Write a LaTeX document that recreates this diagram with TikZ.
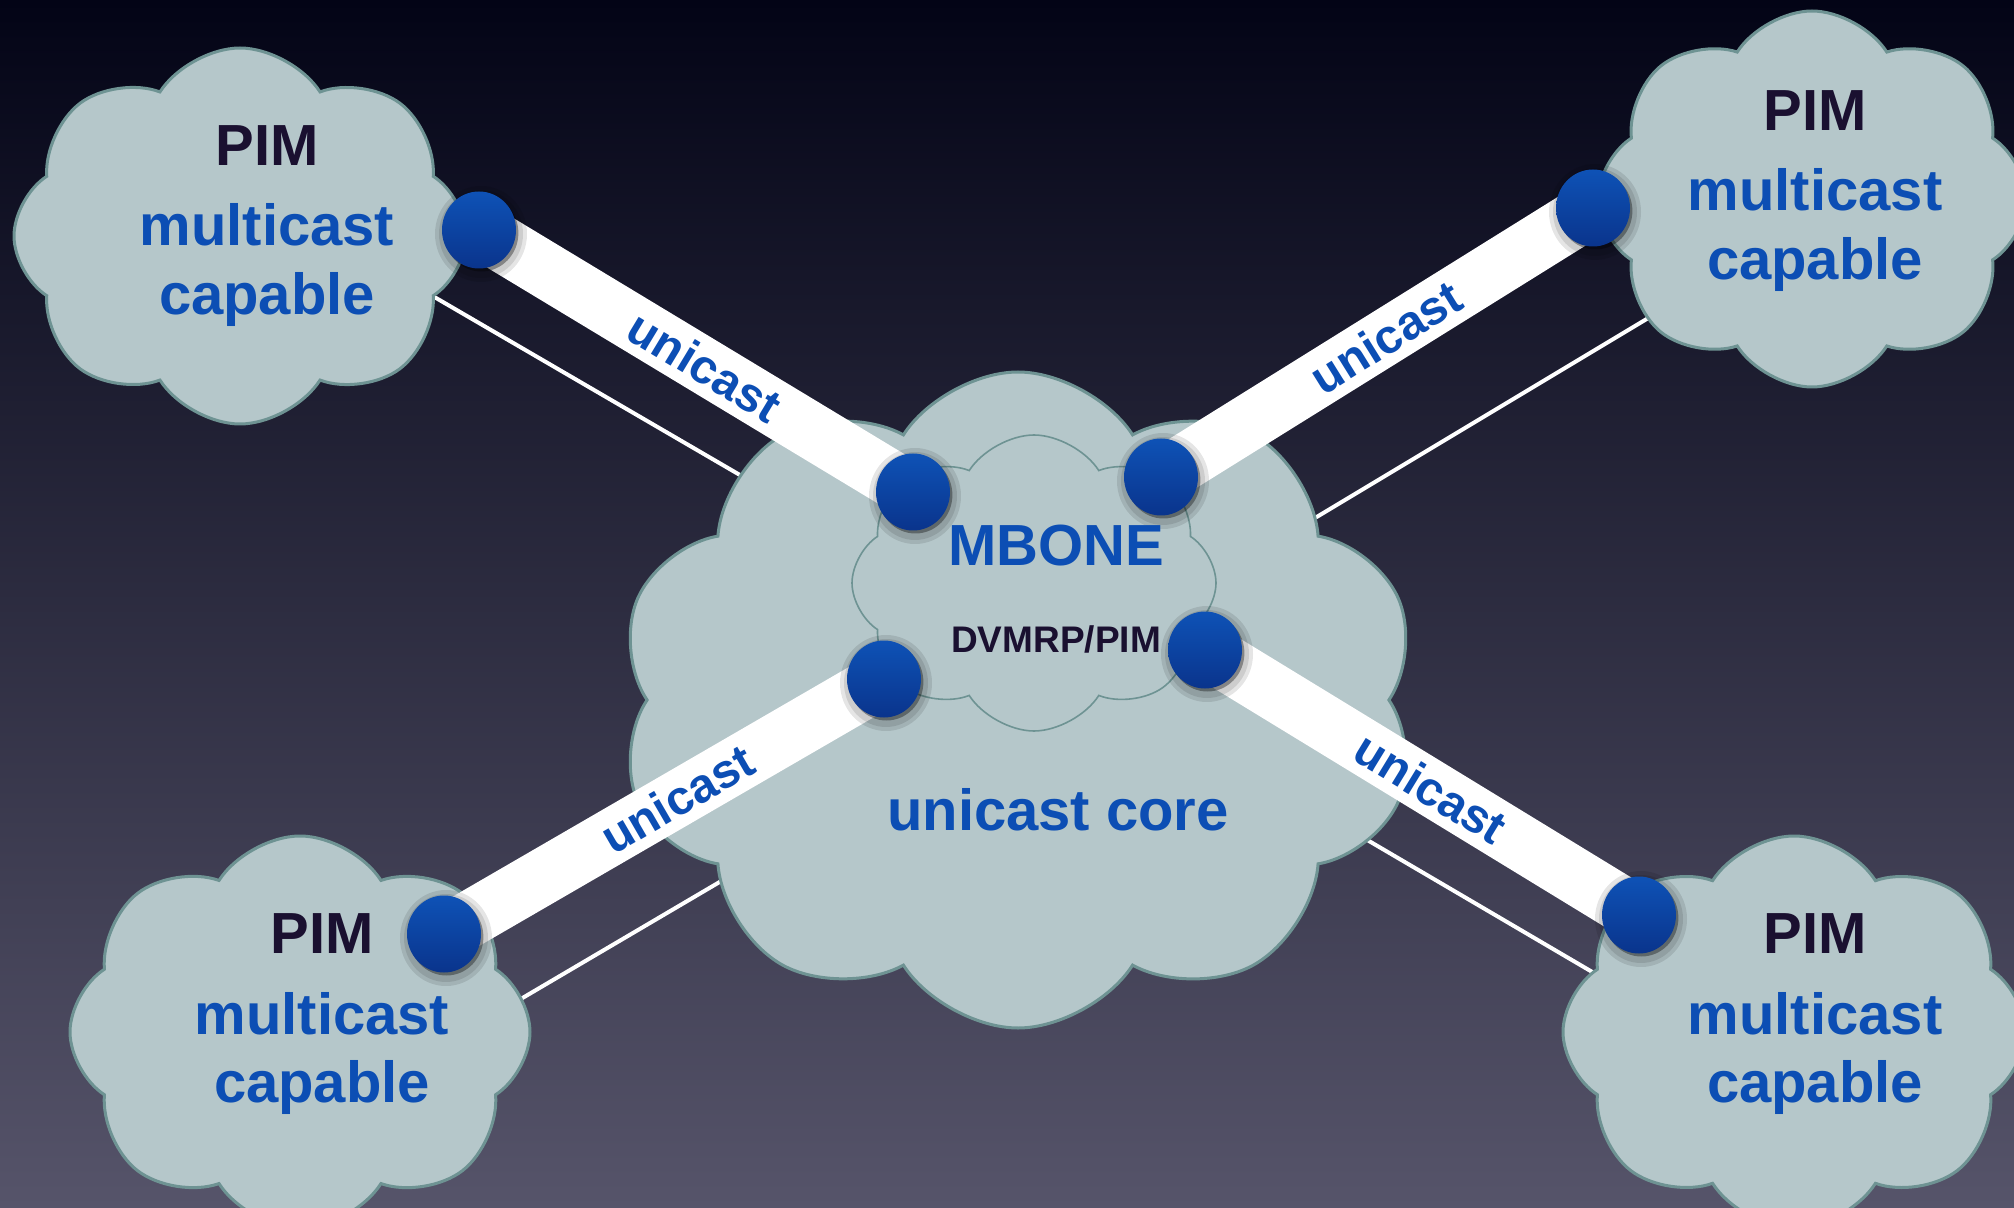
\documentclass[tikz,border=0pt]{standalone}
\usepackage{fontspec}
\setmainfont{Liberation Sans}
\usetikzlibrary{shapes.symbols,shapes.geometric,shadows}
\definecolor{cloudfill}{RGB}{181,199,202}
\definecolor{cloudline}{RGB}{110,147,147}
\definecolor{txtblue}{RGB}{12,78,180}
\definecolor{txtdark}{RGB}{26,16,48}
\definecolor{bgtop}{RGB}{3,4,22}
\definecolor{bgmid}{RGB}{36,34,60}
\definecolor{bgbot}{RGB}{86,84,106}
\definecolor{balltop}{RGB}{14,82,182}
\definecolor{ballbot}{RGB}{10,52,140}
\begin{document}
\begin{tikzpicture}[x=0.5pt,y=-0.5pt,
  cloudbox/.style={cloud, cloud puffs=#1, cloud puff arc=115, cloud ignores aspect,
    draw=cloudline, line width=1.5pt, fill=cloudfill, inner sep=0pt},
  innercloud/.style={cloud, cloud puffs=8, cloud puff arc=115, cloud ignores aspect,
    draw=cloudline, line width=0.8pt, inner sep=0pt},
  ballnode/.style={ellipse, minimum width=37pt, minimum height=38.5pt, inner sep=0pt,
    top color=balltop, bottom color=ballbot,
    drop shadow={shadow xshift=1.2pt, shadow yshift=-1.5pt, opacity=0.35, fill=black}},
  glow/.style={fill=black, opacity=0.10},
  band/.style={line width=28pt, white},
  thinline/.style={line width=2pt, white},
  bandlbl/.style={sloped, text=txtblue, font=\fontsize{24}{24}\selectfont\bfseries, inner sep=0pt},
  bigdark/.style={anchor=base, text=txtdark, font=\fontsize{29}{29}\selectfont\bfseries, inner sep=0pt},
  bigblue/.style={anchor=base, text=txtblue, font=\fontsize{29}{29}\selectfont\bfseries, inner sep=0pt},
  smalldark/.style={anchor=base, text=txtdark, font=\fontsize{18.5}{18.5}\selectfont\bfseries, inner sep=0pt}
]
\useasboundingbox (0,0) rectangle (2014,1208);
\clip (0,0) rectangle (2014,1208);
\shade[top color=bgtop, middle color=bgmid, bottom color=bgbot] (0,0) rectangle (2014,1208);

% thin lines (behind clouds)
\coordinate (tTLa) at (400,277);  \coordinate (tTLb) at (800,510);
\coordinate (tTRa) at (1300,527); \coordinate (tTRb) at (1680,299);
\coordinate (tBLa) at (480,1023); \coordinate (tBLb) at (740,870);
\coordinate (tBRa) at (1340,824); \coordinate (tBRb) at (1640,1000);
\draw[thinline] (tTLa) -- (tTLb);
\draw[thinline] (tTRa) -- (tTRb);
\draw[thinline] (tBLa) -- (tBLb);
\draw[thinline] (tBRa) -- (tBRb);

% clouds
\node[cloudbox=8, minimum width=226pt, minimum height=188pt] (cTL) at (240,236) {};
\node[cloudbox=8, minimum width=214pt, minimum height=188pt] (cTR) at (1812,199) {};
\node[cloudbox=8, minimum width=230pt, minimum height=196pt] (cBL) at (300,1032) {};
\node[cloudbox=8, minimum width=231pt, minimum height=196pt] (cBR) at (1794,1032) {};
\node[cloudbox=10, minimum width=400pt, minimum height=328pt] (core) at (1018,700) {};
\node[innercloud, minimum width=182pt, minimum height=148pt] (mbone) at (1034,583) {};

% ball positions
\coordinate (pTL) at (479,230);
\coordinate (pTR) at (1593,208);
\coordinate (pBL) at (444,934);
\coordinate (pBR) at (1639,915);
\coordinate (pUL) at (913,492);
\coordinate (pUR) at (1161,477);
\coordinate (pLL) at (884,679);
\coordinate (pLR) at (1205,650);

% bands
\draw[band] (pTL) -- node[bandlbl, pos=0.52] (lTL) {unicast} (pUL);
\draw[band] (pUR) -- node[bandlbl, pos=0.52] (lTR) {unicast} (pTR);
\draw[band] (pBL) -- node[bandlbl, pos=0.53] (lBL) {unicast} (pLL);
\draw[band] (pLR) -- node[bandlbl, pos=0.52] (lBR) {unicast} (pBR);

% soft glow under balls
\foreach \p in {pTL,pTR,pBL,pBR,pUL,pUR,pLL,pLR}{
  \fill[glow] ([shift={(2,4)}]\p) ellipse (46 and 48);
  \fill[glow] ([shift={(2,4)}]\p) ellipse (42 and 44);
}

% balls
\node[ballnode] (bTL) at (pTL) {};
\node[ballnode] (bTR) at (pTR) {};
\node[ballnode] (bBL) at (pBL) {};
\node[ballnode] (bBR) at (pBR) {};
\node[ballnode] (bUL) at (pUL) {};
\node[ballnode] (bUR) at (pUR) {};
\node[ballnode] (bLL) at (pLL) {};
\node[ballnode] (bLR) at (pLR) {};

% texts
\node[bigdark] (tl1) at (267,166) {PIM};
\node[bigblue] (tl2) at (267,246) {multicast};
\node[bigblue] (tl3) at (267,315) {capable};

\node[bigdark] (tr1) at (1815,131) {PIM};
\node[bigblue] (tr2) at (1815,211) {multicast};
\node[bigblue] (tr3) at (1815,280) {capable};

\node[bigdark] (bl1) at (322,953) {PIM};
\node[bigblue] (bl2) at (322,1034) {multicast};
\node[bigblue] (bl3) at (322,1102) {capable};

\node[bigdark] (br1) at (1815,953) {PIM};
\node[bigblue] (br2) at (1815,1034) {multicast};
\node[bigblue] (br3) at (1815,1102) {capable};

\node[bigblue] (mb) at (1056,566) {MBONE};
\node[smalldark] (dv) at (1056,652) {DVMRP/PIM};
\node[bigblue] (uc) at (1058,830) {unicast core};
\end{tikzpicture}
\end{document}
